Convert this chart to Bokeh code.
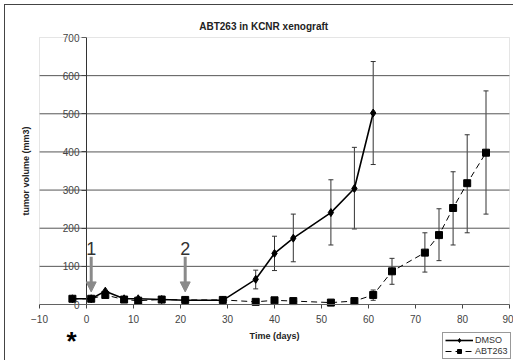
from bokeh.plotting import figure
from bokeh.models import (FixedTicker, Label, ColumnDataSource, Whisker, TeeHead,
                          Arrow, NormalHead, Legend, LegendItem, BoxAnnotation, Range1d)
from bokeh.embed import file_html
from bokeh.resources import INLINE

# ---- data ----
dmso_days = [-3, 1, 4, 8, 11, 16, 21, 29, 36, 40, 44, 52, 57, 61]
dmso_vol = [15, 15, 35, 15, 15, 13, 11, 11, 66, 134, 174, 241, 304, 502]
dmso_err_days = [36, 40, 44, 52, 57, 61]
dmso_err_lo = [41, 89, 112, 156, 198, 367]
dmso_err_hi = [90, 179, 237, 327, 412, 637]

abt_days = [-3, 1, 4, 8, 11, 16, 21, 29, 36, 40, 44, 52, 57, 61, 65, 72, 75, 78, 81, 85]
abt_vol = [15, 15, 25, 13, 10, 13, 12, 12, 7, 11, 9, 5, 9, 25, 87, 136, 182, 253, 318, 398]
abt_err_days = [61, 65, 72, 75, 78, 81, 85]
abt_err_lo = [11, 53, 85, 115, 156, 188, 237]
abt_err_hi = [38, 121, 188, 251, 348, 445, 560]

x_ticks = [-10, 0, 10, 20, 30, 40, 50, 60, 70, 80, 90]
y_ticks = [0, 100, 200, 300, 400, 500, 600, 700]
treat_days = [1, 21]
treat_labels = ["1", "2"]

FONT = "Liberation Sans"
XMIN, XMAX, YMIN, YMAX = -10, 90, 0, 700

# canvas 509x356; plot area spans canvas px 34..504 (x) and 32..299 (y)
W, H = 509, 356
L, R, T, B = 34, 504, 32, 299
xs = (XMAX - XMIN) / (R - L)
ys = (YMAX - YMIN) / (B - T)
x_range = Range1d(XMIN - L * xs, XMAX + (W - R) * xs)
y_range = Range1d(YMIN - (H - B) * ys, YMAX + T * ys)

p = figure(width=W, height=H, output_backend="svg", toolbar_location=None,
           x_range=x_range, y_range=y_range,
           min_border_left=0, min_border_right=0, min_border_top=0, min_border_bottom=0)
p.title.visible = False
p.styles = {"margin-left": "4px", "margin-top": "4px",
            "border-left": "1px solid #444", "border-top": "1px solid #444"}
p.outline_line_color = None
p.xgrid.visible = False
p.ygrid.visible = False

# horizontal grid lines across the plot area
gy = y_ticks[1:-1]
p.segment(x0=[XMIN] * len(gy), y0=gy, x1=[XMAX] * len(gy), y1=gy,
          line_color="#555555", line_width=1)
p.add_layout(BoxAnnotation(left=XMIN, right=XMAX, bottom=YMIN, top=YMAX,
                           fill_alpha=0, line_color="#a8a8a8", line_width=1))

ax = p.xaxis[0]
ax.fixed_location = 0
ax.bounds = (XMIN, XMAX)
ax.ticker = FixedTicker(ticks=x_ticks)
ax.axis_line_color = "#444444"
ax.major_tick_line_color = "#444444"
ax.major_tick_out = 4
ax.major_tick_in = 0
ax.minor_tick_line_color = None
ax.major_label_text_font = FONT
ax.major_label_text_font_size = "10px"
ax.major_label_text_color = "#444444"
ax.major_label_standoff = 6
ax.axis_label = "Time (days)"
ax.axis_label_text_font = FONT
ax.axis_label_text_font_style = "bold"
ax.axis_label_text_font_size = "9px"
ax.axis_label_text_color = "#222222"
ax.axis_label_standoff = 5

ay = p.yaxis[0]
ay.fixed_location = 0
ay.bounds = (YMIN, YMAX)
ay.ticker = FixedTicker(ticks=y_ticks)
ay.axis_line_color = "#333333"
ay.major_tick_line_color = "#444444"
ay.major_tick_out = 5
ay.major_tick_in = 0
ay.minor_tick_line_color = None
ay.major_label_text_font = FONT
ay.major_label_text_font_size = "10px"
ay.major_label_text_color = "#444444"
ay.major_label_standoff = 2
ay.axis_label = "tumor volume (mm3)"
ay.axis_label_text_font = FONT
ay.axis_label_text_font_style = "bold"
ay.axis_label_text_font_size = "9px"
ay.axis_label_text_color = "#222222"
ay.axis_label_standoff = 29

p.add_layout(Label(x=37.7, y=729, text="ABT263 in KCNR xenograft", text_align="center",
                   text_baseline="middle", text_font=FONT, text_font_size="10px",
                   text_font_style="bold", text_color="#222222"))

# error bars
for d, lo, hi in [(dmso_err_days, dmso_err_lo, dmso_err_hi), (abt_err_days, abt_err_lo, abt_err_hi)]:
    src = ColumnDataSource(dict(base=d, lower=lo, upper=hi))
    p.add_layout(Whisker(base="base", lower="lower", upper="upper", source=src,
                         line_color="#333333", line_width=1,
                         upper_head=TeeHead(size=5, line_color="#333333", line_width=1),
                         lower_head=TeeHead(size=5, line_color="#333333", line_width=1)))

# series
l1 = p.line(dmso_days, dmso_vol, line_color="black", line_width=1.6)
m1 = p.scatter(dmso_days, dmso_vol, marker="diamond", size=8, fill_color="black", line_color="black")
l2 = p.line(abt_days, abt_vol, line_color="black", line_width=1, line_dash="6 4")
m2 = p.scatter(abt_days, abt_vol, marker="square", size=7, fill_color="black", line_color="black")

# treatment arrows
for d, t in zip(treat_days, treat_labels):
    p.add_layout(Arrow(x_start=d, y_start=125, x_end=d, y_end=33, line_color="#8a8a8a",
                       line_width=3,
                       end=NormalHead(size=10, fill_color="#8a8a8a", line_color="#8a8a8a")))
    p.add_layout(Label(x=d, y=147, text=t, text_align="center", text_baseline="middle",
                       text_font=FONT, text_font_size="18px", text_color="#333333"))
p.add_layout(Label(x=-3.2, y=-95, text="*", text_align="center", text_baseline="middle",
                   text_font=FONT, text_font_size="26px", text_font_style="bold",
                   text_color="black"))

leg = Legend(items=[LegendItem(label="DMSO", renderers=[l1, m1]),
                    LegendItem(label="ABT263", renderers=[l2, m2])],
             location=(437, 2), label_text_font=FONT, label_text_font_size="9px",
             label_text_color="#333333", glyph_width=28, glyph_height=10, label_height=10,
             label_standoff=2, padding=2, spacing=1, margin=0,
             border_line_color="#333333", border_line_width=1)
p.add_layout(leg)

open("out.html", "w").write(file_html(p, INLINE))
